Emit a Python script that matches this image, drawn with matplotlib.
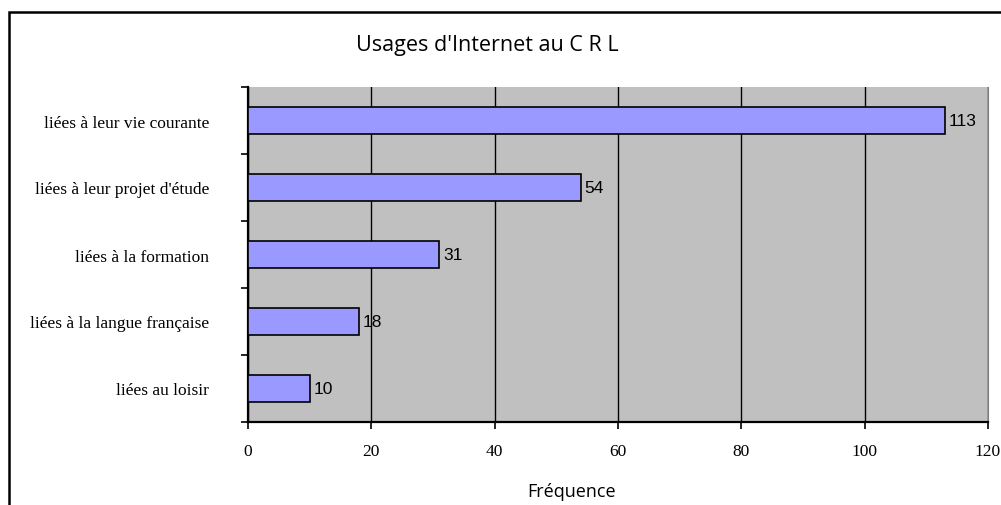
import numpy as np
import matplotlib.pyplot as plt
from matplotlib.patches import Rectangle

# data, top to bottom
categories = ["liées à leur vie courante", "liées à leur projet d'étude",
              "liées à la formation", "liées à la langue française",
              "liées au loisir"]
values = [113, 54, 31, 18, 10]
x_ticks = [0, 20, 40, 60, 80, 100, 120]

fig = plt.figure(figsize=(10.01, 5.06), dpi=100)
ax = fig.add_axes([248 / 1001, 1 - 423 / 506, 740 / 1001, 335 / 506])

y = np.arange(len(categories))
ax.set_facecolor('#c0c0c0')
ax.barh(y, values, height=0.4, color='#9999ff', edgecolor='black',
        linewidth=1.2, zorder=3)
for yi, v in zip(y, values):
    ax.text(v + 0.6, yi, str(v), va='center', ha='left',
            fontsize=12.5, family='Liberation Sans', zorder=4)

ax.set_xlim(0, 120)
ax.set_ylim(len(categories) - 0.5, -0.5)
ax.set_xticks(x_ticks)
ax.set_xticklabels([str(t) for t in x_ticks], family='Liberation Serif',
                   fontsize=12.5)
ax.xaxis.grid(True, color='black', linewidth=1, zorder=1)
ax.set_axisbelow(True)

ax.set_yticks(y)
ax.set_yticklabels(categories, family='Liberation Serif', fontsize=12.5)
ax.set_yticks(np.arange(-0.5, len(categories)), minor=True)
ax.tick_params(axis='y', which='major', length=0, pad=28)
ax.tick_params(axis='y', which='minor', length=5, width=1.2, direction='out')
ax.tick_params(axis='x', length=5, width=1.2, direction='out', pad=10)

ax.spines['top'].set_visible(False)
ax.spines['right'].set_color('#808080')
ax.spines['left'].set_linewidth(1.6)
ax.spines['bottom'].set_linewidth(1.6)

fig.text(487 / 1001, 1 - 45 / 506, "Usages d'Internet au C R L",
         ha='center', va='center', fontsize=15.5, family='Open Sans')
fig.text(572 / 1001, 1 - 492 / 506, "Fréquence", ha='center', va='center',
         fontsize=13, family='Open Sans')

# outer chart frame (cut off at right and bottom)
fig.patches.append(Rectangle((9 / 1001, -0.05), 1.1, 1 - 13 / 506 + 0.05,
                             transform=fig.transFigure, fill=False,
                             edgecolor='black', linewidth=1.8))

fig.savefig('out.png', dpi=100)
